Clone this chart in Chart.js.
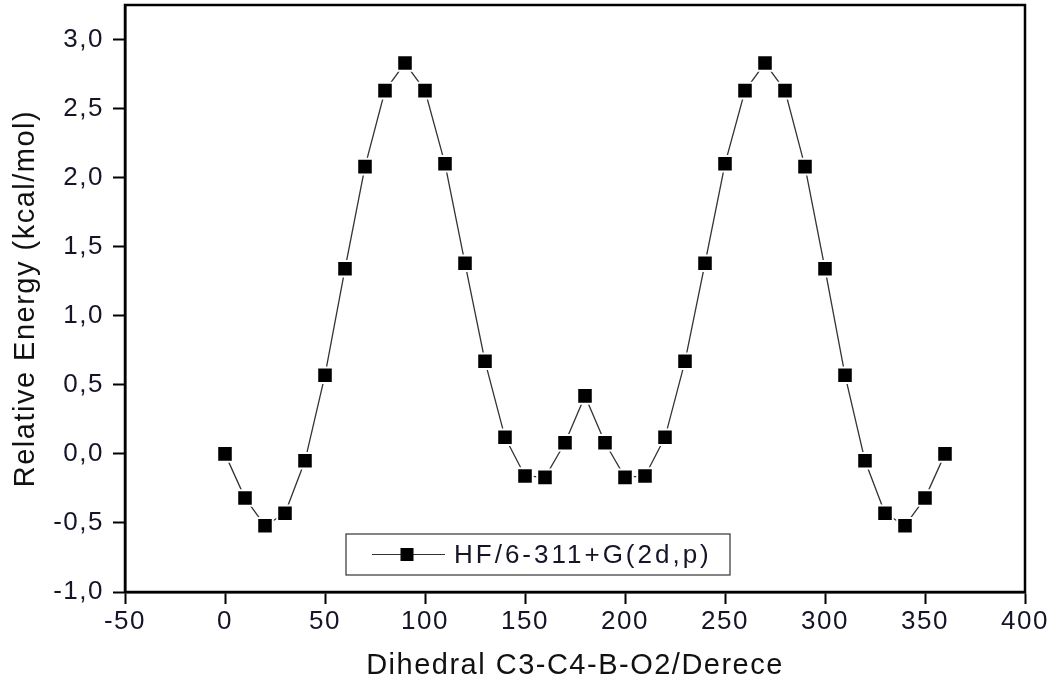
<!DOCTYPE html>
<html>
<head>
<meta charset="utf-8">
<script src="https://cdn.jsdelivr.net/npm/chart.js@4.4.1/dist/chart.umd.min.js"></script>
<style>
  html, body { margin: 0; padding: 0; background: #fff; }
  #wrap { width: 1059px; height: 686px; }
</style>
</head>
<body>
<div id="wrap"><canvas id="chartCanvas" width="1059" height="686"></canvas></div>
<script>
// Dihedral scan, 0..360 deg in 10 deg steps
const dihedral = [0, 10, 20, 30, 40, 50, 60, 70, 80, 90, 100, 110, 120, 130, 140, 150, 160, 170, 180,
  190, 200, 210, 220, 230, 240, 250, 260, 270, 280, 290, 300, 310, 320, 330, 340, 350, 360];
const energy = [0.00, -0.32, -0.52, -0.43, -0.05, 0.57, 1.34, 2.08, 2.63, 2.83, 2.63, 2.10, 1.38, 0.67, 0.12, -0.16, -0.17, 0.08, 0.42,
  0.08, -0.17, -0.16, 0.12, 0.67, 1.38, 2.10, 2.63, 2.83, 2.63, 2.08, 1.34, 0.57, -0.05, -0.43, -0.52, -0.32, 0.00];
const seriesLabel = 'HF/6-311+G(2d,p)';
const xTitle = 'Dihedral C3-C4-B-O2/Derece';
const yTitle = 'Relative Energy (kcal/mol)';

const FONT = "'Liberation Sans', Arial, sans-serif";
const TICK_COLOR = '#15152a';

function isMajor(v, step) {
  return Math.abs(v / step - Math.round(v / step)) < 1e-6;
}

// minor ticks, frame and legend box
const decorations = {
  id: 'decorations',
  beforeDraw(chart) {
    chart.ctx.letterSpacing = '1.5px';
  },
  afterDraw(chart) {
    const ctx = chart.ctx;
    const area = chart.chartArea;
    const xs = chart.scales.x, ys = chart.scales.y;
    ctx.save();
    ctx.strokeStyle = '#000';
    ctx.lineWidth = 2;
    // minor ticks
    ctx.beginPath();
    xs.ticks.forEach(t => {
      if (isMajor(t.value, 50)) return;
      const px = xs.getPixelForValue(t.value);
      ctx.moveTo(px, area.bottom);
      ctx.lineTo(px, area.bottom + 7);
    });
    ys.ticks.forEach(t => {
      if (isMajor(t.value, 0.5) || t.value >= ys.max) return;
      const py = ys.getPixelForValue(t.value);
      ctx.moveTo(area.left, py);
      ctx.lineTo(area.left - 7, py);
    });
    ctx.stroke();
    // frame
    ctx.lineWidth = 2.5;
    ctx.strokeRect(area.left, area.top, area.right - area.left, area.bottom - area.top);

    // legend
    const bx = area.left + 221, by = area.bottom - 58, bw = 384, bh = 41;
    ctx.fillStyle = '#fff';
    ctx.fillRect(bx, by, bw, bh);
    ctx.lineWidth = 1.2;
    ctx.strokeStyle = '#333';
    ctx.strokeRect(bx, by, bw, bh);
    const cy = by + bh / 2;
    ctx.beginPath();
    ctx.moveTo(bx + 26, cy);
    ctx.lineTo(bx + 99, cy);
    ctx.stroke();
    ctx.fillStyle = '#000';
    ctx.fillRect(bx + 61 - 6.5, cy - 6.5, 13, 13);
    ctx.font = '26px ' + FONT;
    ctx.letterSpacing = '3px';
    ctx.textBaseline = 'middle';
    ctx.fillStyle = TICK_COLOR;
    ctx.fillText(seriesLabel, bx + 108, cy + 1);
    ctx.restore();
  }
};

const ctx = document.getElementById('chartCanvas').getContext('2d');
const chart = new Chart(ctx, {
  type: 'line',
  data: {
    labels: dihedral,
    datasets: [{
      label: seriesLabel,
      data: dihedral.map((x, i) => ({ x: x, y: energy[i] })),
      borderColor: '#333',
      borderWidth: 1.3,
      pointStyle: 'rect',
      pointRadius: 11,
      pointHoverRadius: 11,
      pointBackgroundColor: '#000',
      pointBorderColor: '#fff',
      pointBorderWidth: 2,
      tension: 0
    }]
  },
  options: {
    responsive: false,
    animation: false,
    events: [],
    layout: { autoPadding: false, padding: { top: 5, right: 34, left: 0, bottom: 0 } },
    plugins: {
      legend: { display: false },
      tooltip: { enabled: false }
    },
    scales: {
      x: {
        type: 'linear',
        min: -50,
        max: 400,
        afterFit(scale) { scale.height = 94; },
        border: { display: true, color: '#000', width: 2.5 },
        grid: {
          drawOnChartArea: false,
          drawTicks: true,
          tickLength: 12,
          tickWidth: 2,
          tickColor: c => isMajor(c.tick.value, 50) ? '#000' : 'rgba(0,0,0,0)'
        },
        ticks: {
          stepSize: 25,
          autoSkip: false,
          maxRotation: 0,
          padding: 2,
          color: TICK_COLOR,
          font: { family: FONT, size: 26 },
          callback: v => isMajor(v, 50) ? String(v) : null
        },
        title: {
          display: true,
          text: xTitle,
          color: '#111',
          font: { family: FONT, size: 29 },
          padding: { top: 0, bottom: 3 }
        }
      },
      y: {
        min: -1.0,
        max: 3.25,
        afterFit(scale) {
          scale.width = 125;
          scale.paddingTop = 0;
          scale.paddingBottom = 0;
        },
        border: { display: true, color: '#000', width: 2.5 },
        grid: {
          drawOnChartArea: false,
          drawTicks: true,
          tickLength: 12,
          tickWidth: 2,
          tickColor: c => isMajor(c.tick.value, 0.5) ? '#000' : 'rgba(0,0,0,0)'
        },
        ticks: {
          stepSize: 0.25,
          autoSkip: false,
          padding: 9,
          color: TICK_COLOR,
          font: { family: FONT, size: 26 },
          callback: v => isMajor(v, 0.5) && v < 3.2 ? v.toFixed(1).replace('.', ',') : null
        },
        title: {
          display: true,
          text: yTitle,
          color: '#111',
          font: { family: FONT, size: 29 },
          padding: { top: 9, bottom: 0 }
        }
      }
    }
  },
  plugins: [decorations]
});
</script>
</body>
</html>
